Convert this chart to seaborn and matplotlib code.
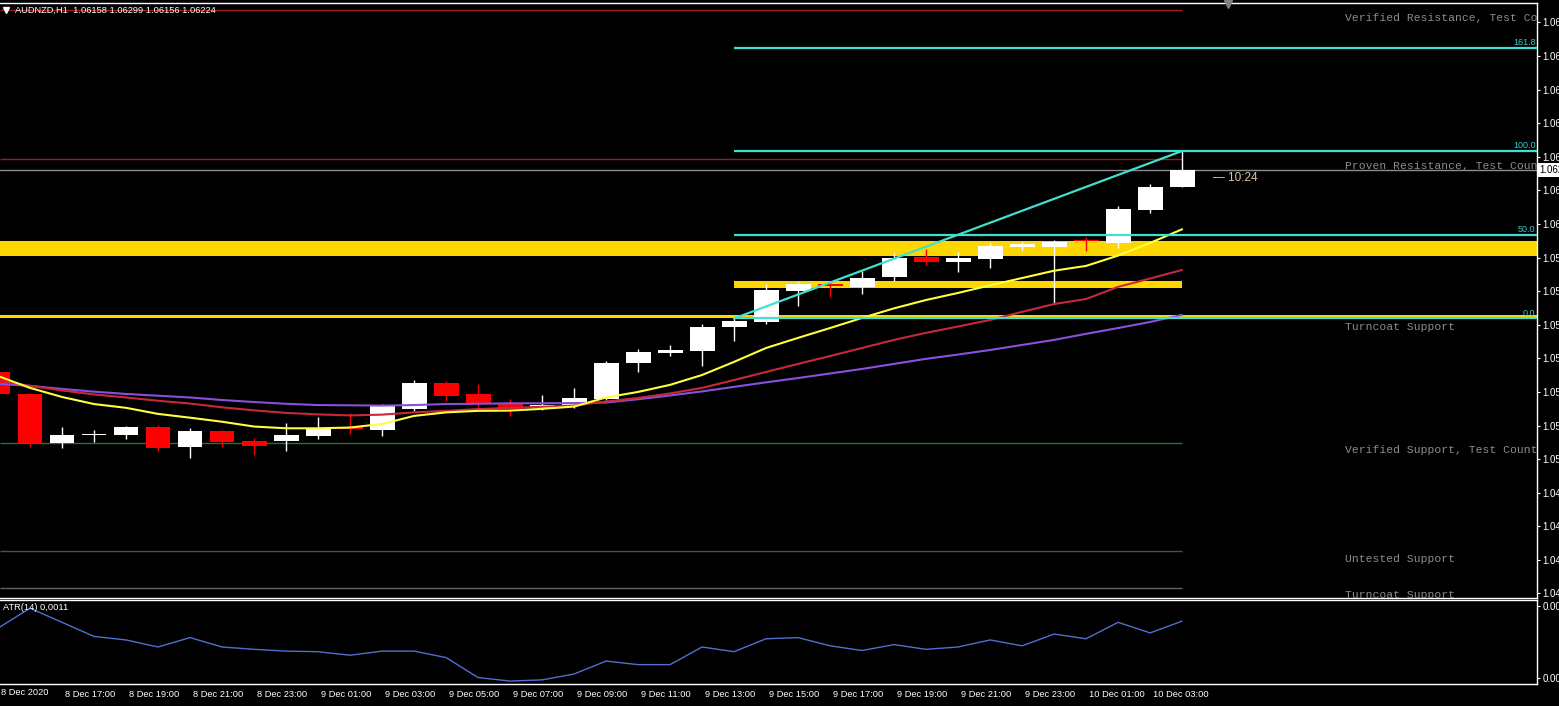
import numpy as np
import pandas as pd
import matplotlib.pyplot as plt
import matplotlib.transforms as mtransforms
import seaborn as sns

# ---------------------------------------
# 0) Settings
# ---------------------------------------
sns.set_theme(style="dark", rc={
    "figure.facecolor": "black",
    "axes.facecolor": "black",
    "savefig.facecolor": "black",
    "axes.edgecolor": "white",
    "text.color": "white",
    "xtick.color": "white",
    "ytick.color": "white",
    "axes.grid": False,
})
plt.rcParams["font.family"] = ["Liberation Sans", "DejaVu Sans"]

# ---------------------------------------
# 1) Data (AUDNZD H1, 8 Dec 15:00 -> 10 Dec 04:00)
# ---------------------------------------
HEADER = "AUDNZD,H1  1.06158 1.06299 1.06156 1.06224"
ATR_LABEL = "ATR(14) 0,0011"
TIMER_LABEL = "\u2014 10:24"

TIME_LABELS = ["8 Dec 2020", "8 Dec 17:00", "8 Dec 19:00", "8 Dec 21:00", "8 Dec 23:00",
               "9 Dec 01:00", "9 Dec 03:00", "9 Dec 05:00", "9 Dec 07:00", "9 Dec 09:00",
               "9 Dec 11:00", "9 Dec 13:00", "9 Dec 15:00", "9 Dec 17:00", "9 Dec 19:00",
               "9 Dec 21:00", "9 Dec 23:00", "10 Dec 01:00", "10 Dec 03:00"]

OPEN = [1.05424, 1.05337, 1.05143, 1.05175, 1.05176, 1.05206, 1.05128, 1.05190, 1.05151, 1.05151,
        1.05172, 1.05206, 1.05194, 1.05278, 1.05382, 1.05337, 1.05297, 1.05283, 1.05293, 1.05317,
        1.05460, 1.05499, 1.05507, 1.05603, 1.05623, 1.05746, 1.05773, 1.05762, 1.05799, 1.05879,
        1.05860, 1.05873, 1.05920, 1.05920, 1.05947, 1.05936, 1.06066, 1.06158]
HIGH = [1.05432, 1.05341, 1.05206, 1.05194, 1.05211, 1.05214, 1.05204, 1.05194, 1.05162, 1.05223,
        1.05247, 1.05263, 1.05297, 1.05392, 1.05388, 1.05375, 1.05317, 1.05333, 1.05361, 1.05468,
        1.05515, 1.05531, 1.05614, 1.05643, 1.05771, 1.05782, 1.05782, 1.05824, 1.05897, 1.05910,
        1.05899, 1.05935, 1.05940, 1.05947, 1.05960, 1.06081, 1.06167, 1.06299]
LOW = [1.05335, 1.05127, 1.05124, 1.05148, 1.05159, 1.05112, 1.05085, 1.05128, 1.05095, 1.05112,
       1.05158, 1.05179, 1.05171, 1.05270, 1.05308, 1.05284, 1.05251, 1.05274, 1.05282, 1.05313,
       1.05424, 1.05487, 1.05448, 1.05547, 1.05613, 1.05687, 1.05720, 1.05734, 1.05784, 1.05848,
       1.05821, 1.05837, 1.05907, 1.05697, 1.05904, 1.05914, 1.06055, 1.06156]
CLOSE = [1.05337, 1.05143, 1.05175, 1.05176, 1.05206, 1.05124, 1.05190, 1.05148, 1.05132, 1.05175,
         1.05201, 1.05197, 1.05289, 1.05382, 1.05330, 1.05300, 1.05278, 1.05293, 1.05320, 1.05460,
         1.05503, 1.05511, 1.05602, 1.05626, 1.05749, 1.05773, 1.05765, 1.05796, 1.05874, 1.05860,
         1.05876, 1.05924, 1.05930, 1.05939, 1.05942, 1.06070, 1.06157, 1.06224]

MA_FAST = [1.05408, 1.05361, 1.05325, 1.05297, 1.05282, 1.05258, 1.05243, 1.05227, 1.05208, 1.05201,
           1.05201, 1.05204, 1.05218, 1.05250, 1.05264, 1.05270, 1.05271, 1.05278, 1.05287, 1.05323,
           1.05345, 1.05373, 1.05412, 1.05464, 1.05519, 1.05559, 1.05598, 1.05638, 1.05676, 1.05709,
           1.05737, 1.05767, 1.05796, 1.05825, 1.05844, 1.05885, 1.05935, 1.05989]
MA_MID = [1.05390, 1.05369, 1.05351, 1.05335, 1.05323, 1.05310, 1.05299, 1.05284, 1.05272, 1.05262,
          1.05256, 1.05252, 1.05255, 1.05264, 1.05270, 1.05277, 1.05282, 1.05286, 1.05291, 1.05307,
          1.05321, 1.05339, 1.05361, 1.05392, 1.05424, 1.05456, 1.05487, 1.05519, 1.05551, 1.05579,
          1.05604, 1.05630, 1.05662, 1.05693, 1.05713, 1.05761, 1.05794, 1.05828]
MA_SLOW = [1.05377, 1.05369, 1.05357, 1.05346, 1.05337, 1.05330, 1.05323, 1.05313, 1.05305, 1.05298,
           1.05293, 1.05292, 1.05291, 1.05293, 1.05297, 1.05298, 1.05300, 1.05300, 1.05301, 1.05303,
           1.05316, 1.05331, 1.05347, 1.05365, 1.05383, 1.05400, 1.05418, 1.05436, 1.05456, 1.05476,
           1.05493, 1.05511, 1.05531, 1.05551, 1.05575, 1.05598, 1.05622, 1.05650]

ATR = [0.00104, 0.00121, 0.00109, 0.00097, 0.00094, 0.00088, 0.00096, 0.00088, 0.00086, 0.000845,
       0.00084, 0.00081, 0.000845, 0.000845, 0.00079, 0.00062, 0.00059, 0.00060, 0.00065, 0.00076,
       0.00073, 0.00073, 0.00088, 0.00084, 0.00095, 0.00096, 0.00089, 0.00085, 0.00090, 0.00086,
       0.00088, 0.00094, 0.00089, 0.00099, 0.00095, 0.00109, 0.00100, 0.00110]

BID = 1.06224
RES_LINES = [1.06858, 1.06268]
SUP_LINES = [1.05143, 1.04715, 1.04569]
GOLD_BIG = (1.05885, 1.05943)
GOLD_MID = (1.05758, 1.05784)
GOLD_THIN = (1.05636, 1.05648)
FIB_LOW, FIB_HIGH = 1.05636, 1.06299
FIB_LEVELS = [0.0, 50.0, 100.0, 161.8]
FIB_START, FIB_END = 23, 37

ZONE_TEXTS = ["Verified Resistance, Test Count=2", "Proven Resistance, Test Count=3",
              "Turncoat Support", "Verified Support, Test Count=2",
              "Untested Support", "Turncoat Support"]
ZONE_TEXT_Y = [1.06826, 1.06240, 1.05602, 1.05115, 1.04684, 1.04541]

# ---------------------------------------
# 2) Figure layout (pixel based, like the terminal window)
# ---------------------------------------
W, H = 1559, 706
XLIM = (0.0625, 48.09)
YLIM = (1.04529, 1.06887)
ATR_LIM = (0.000565, 0.00128)


def px_rect(x0, y0, x1, y1):
    return [x0 / W, 1 - y1 / H, (x1 - x0) / W, (y1 - y0) / H]


def style_panel(a):
    a.set_facecolor("black")
    for side in ["top", "right", "bottom"]:
        a.spines[side].set_color("white")
        a.spines[side].set_linewidth(1.0)
    a.spines["left"].set_visible(False)
    a.yaxis.tick_right()
    a.tick_params(axis="y", colors="white", labelsize=7, length=2.2, width=0.8, pad=1.5,
                  direction="out", left=False, right=True)
    a.set_xlabel("")
    a.set_ylabel("")


fig = plt.figure(figsize=(W / 100, H / 100), dpi=100)
ax = fig.add_axes(px_rect(0, 2.5, 1537, 598))
ax_atr = fig.add_axes(px_rect(0, 600, 1537, 684))

df = pd.DataFrame({"bar": np.arange(len(OPEN)), "open": OPEN, "high": HIGH, "low": LOW,
                   "close": CLOSE, "ma_fast": MA_FAST, "ma_mid": MA_MID, "ma_slow": MA_SLOW,
                   "atr": ATR})

# ---------------------------------------
# 3) Main price panel
# ---------------------------------------
last = df["bar"].iloc[-1]

# zones
ax.axhspan(*GOLD_BIG, color="#FFD700", lw=0, zorder=1)
ax.axhspan(*GOLD_THIN, color="#FFD700", lw=0, zorder=1)
ax.fill_between([FIB_START, FIB_END], GOLD_MID[0], GOLD_MID[1], color="#FFD700", lw=0, zorder=1)
ax.hlines(RES_LINES, XLIM[0], last, colors="#a01c1c", lw=1.0, zorder=1)
ax.hlines(SUP_LINES, XLIM[0], last, colors=["#2d6e2d", "#3e5a3e", "#5a6a5a"], lw=1.0, zorder=1)
ax.axhline(BID, color="#8c8c8c", lw=1.0, zorder=1.5)

# candles
bull = df["close"] >= df["open"]
cols = np.where(bull, "white", "#ff0000")
body_lo = np.minimum(df["open"], df["close"])
body_h = np.maximum(np.abs(df["close"] - df["open"]), 0.00003)
ax.vlines(df["bar"], df["low"], df["high"], colors=cols, lw=1.0, zorder=2.9)
ax.bar(df["bar"], body_h, bottom=body_lo, width=0.78, color=cols, linewidth=0, zorder=3)

# moving averages
sns.lineplot(data=df, x="bar", y="ma_slow", ax=ax, color="#8a4fdc", lw=1.5, zorder=4)
sns.lineplot(data=df, x="bar", y="ma_mid", ax=ax, color="#c8283c", lw=1.5, zorder=4)
sns.lineplot(data=df, x="bar", y="ma_fast", ax=ax, color="#ffff40", lw=1.5, zorder=4)

# fibonacci + trendline
fib_col = "#40e0d0"
blend = mtransforms.blended_transform_factory(ax.transAxes, ax.transData)
for lev in FIB_LEVELS:
    price = FIB_LOW + (FIB_HIGH - FIB_LOW) * lev / 100
    ax.hlines(price, FIB_START, XLIM[1], colors=fib_col, lw=1.6, zorder=5)
    ax.text(1 - 1.5 / 1537, price + 0.00003, f"{lev:.1f}", transform=blend, ha="right",
            va="bottom", color="#40c8c8", fontsize=6.5, zorder=6)
ax.plot([FIB_START, FIB_END], [FIB_LOW, FIB_HIGH], color=fib_col, lw=1.6, zorder=5)

# zone texts
for txt, yv in zip(ZONE_TEXTS, ZONE_TEXT_Y):
    ax.text(42.09, yv, txt, color="#8c8c8c", fontsize=8.2, family="Liberation Mono",
            ha="left", va="center", clip_on=True, zorder=6)

ax.text(37.97, 1.06192, TIMER_LABEL, color="#d8c8a0", fontsize=8.5, ha="left",
        va="center", zorder=6)

# header
ax.text(15 / 1537, 1 - 7.5 / 595.5, HEADER, transform=ax.transAxes, color="white",
        fontsize=6.7, ha="left", va="center", zorder=7)
ax.plot([6 / 1537], [1 - 7.5 / 595.5], marker="v", ms=4, color="white",
        transform=ax.transAxes, zorder=7, clip_on=False)
ax.plot([38.44], [YLIM[1] - 0.00006], marker="v", ms=6, color="#808080", zorder=7,
        clip_on=False)

# current price box
ax.text(1 + 2 / 1537, BID, f"{BID:.5f}", transform=blend, ha="left", va="center",
        color="black", fontsize=7, clip_on=False, zorder=8,
        bbox=dict(facecolor="white", edgecolor="none", pad=1.2))

ax.set_xlim(*XLIM)
ax.set_ylim(*YLIM)
ticks = 1.06010 + 0.00133 * np.arange(-11, 7)
ax.set_yticks(ticks)
ax.set_yticklabels([f"{t:.5f}" for t in ticks])
style_panel(ax)
ax.tick_params(axis="x", bottom=False, labelbottom=False)

# ---------------------------------------
# 4) ATR panel
# ---------------------------------------
sns.lineplot(data=df, x="bar", y="atr", ax=ax_atr, color="#5070d0", lw=1.0)
ax_atr.set_xlim(*XLIM)
ax_atr.set_ylim(*ATR_LIM)
ax_atr.set_yticks([0.00123, 0.00062])
ax_atr.set_yticklabels(["0.00123", "0.00062"])
style_panel(ax_atr)
ax_atr.text(3 / 1537, 1 - 8 / 84, ATR_LABEL, transform=ax_atr.transAxes, color="white",
            fontsize=6.7, ha="left", va="center")

xt = np.arange(2, 37, 2)
ax_atr.set_xticks(xt)
ax_atr.set_xticklabels(TIME_LABELS[1:], fontsize=6.7)
ax_atr.tick_params(axis="x", colors="white", length=3, width=0.8, pad=1.5, direction="out")
shift = mtransforms.ScaledTranslation(3 / 100, 0, fig.dpi_scale_trans)
for lab in ax_atr.get_xticklabels():
    lab.set_horizontalalignment("left")
    lab.set_transform(lab.get_transform() + shift)
xblend = mtransforms.blended_transform_factory(ax_atr.transData, ax_atr.transAxes)
ax_atr.text(0, -0.045, TIME_LABELS[0], transform=xblend + shift, color="white",
            fontsize=6.7, ha="left", va="top", clip_on=False)

fig.savefig("out.png", dpi=100, facecolor="black")
plt.close(fig)
